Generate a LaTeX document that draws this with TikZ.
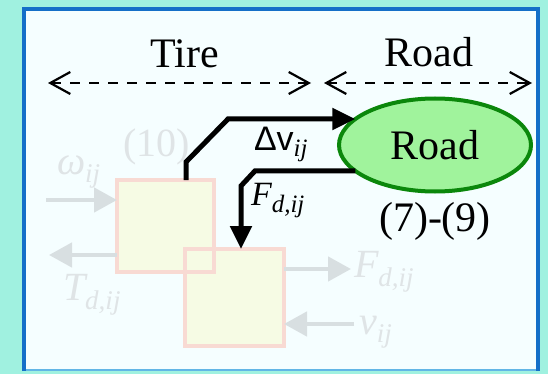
\documentclass[tikz,border=0pt]{standalone}
\usepackage{fontspec}
\setmainfont{Liberation Serif}
\newfontfamily\sansfont{Liberation Sans}
\usetikzlibrary{arrows.meta,shapes.geometric,positioning}
\definecolor{tealbg}{HTML}{A0F1E0}
\definecolor{panelbg}{HTML}{F5FEFF}
\definecolor{frameblue}{HTML}{146FC8}
\definecolor{framelight}{HTML}{62B6E6}
\definecolor{roadfill}{HTML}{A0F39C}
\definecolor{roadline}{HTML}{0B870B}
\definecolor{boxfill}{HTML}{F6FBE4}
\definecolor{boxline}{HTML}{F8DAD3}
\definecolor{fadeline}{HTML}{D8DFE1}
\definecolor{fadetext}{HTML}{DFE4E6}
\newcommand{\lowsub}[3]{\raisebox{-#1pt}{\fontsize{#2}{#2}\selectfont\itshape #3}}

\begin{document}
\begin{tikzpicture}[x=1pt, y=-1pt,
    every node/.style={inner sep=0pt, outer sep=0pt},
    bigtext/.style={font=\fontsize{42}{46}\selectfont, anchor=base},
    spanarrow/.style={line width=2.2pt, dash pattern=on 10pt off 9pt,
      {Straight Barb[length=20pt,width=22pt]}-{Straight Barb[length=20pt,width=22pt]}},
    flowarrow/.style={line width=5pt, -{Triangle[length=23pt,width=21pt]}},
    fadearrow/.style={fadeline, line width=4.5pt, -{Triangle[length=23pt,width=24pt]}},
    fadelabel/.style={fadetext, font=\fontsize{40}{44}\selectfont, anchor=base west},
    flowlabel/.style={font=\fontsize{34}{38}\selectfont, anchor=base west},
    blockbox/.style={draw=boxline, fill=boxfill, line width=4pt, minimum width=97pt, minimum height=92pt}]

%% ==== panel and frame ====
\fill[tealbg] (0,0) rectangle (548,374);
\fill[panelbg] (24,9.5) rectangle (538,370);
\draw[framelight, line width=2.5pt] (24,370) -- (538,370);
\draw[frameblue, line width=4pt] (24,371) -- (24,9.5) -- (538,9.5) -- (538,371);

%% ==== faded blocks behind ====
\fill[boxfill] (117,180) rectangle (214,272);
\fill[boxfill] (185,249) rectangle (284,346);
\node[blockbox, fill=none] (sqa) at (165.5,226) {};
\node[blockbox, fill=none, minimum width=99pt, minimum height=97pt] (sqb) at (234.5,297.5) {};

\coordinate (omegafrom) at (46,200);
\coordinate (tto) at (49,255);
\coordinate (fout) at (351,269);
\coordinate (vin) at (354,324);
\draw[fadearrow] (omegafrom) -- (omegafrom -| sqa.west);
\draw[fadearrow] (sqa.west |- tto) -- (tto);
\draw[fadearrow] (sqb.east |- fout) -- (fout);
\draw[fadearrow] (vin) -- (vin -| sqb.east);

\node[fadelabel] (omegalbl) at (57,175) {\itshape ω\lowsub{8}{27}{ij}};
\node[fadelabel] (tlbl) at (63,300) {\itshape T\lowsub{9}{27}{d,ij}};
\node[fadelabel] (eqten) at (123,157) {(10)};
\node[fadelabel] (flbl) at (354,277) {\itshape F\lowsub{9}{27}{d,ij}};
\node[fadelabel] (vlbl) at (359,334) {\itshape v\lowsub{8}{27}{ij}};

%% ==== Tire / Road spans ====
\node[bigtext] (tirelbl) at (185,68) {Tire};
\node[bigtext] (roadlbl) at (429,67) {Road};
\coordinate (tireL) at (48,83);
\coordinate (tireR) at (311,83);
\coordinate (roadL) at (324,83);
\coordinate (roadR) at (532,83);
\draw[spanarrow] (tireL) -- (tireR);
\draw[spanarrow] (roadL) -- (roadR);

%% ==== road model ====
\node[ellipse, draw=roadline, fill=roadfill, line width=4pt,
      minimum width=192pt, minimum height=93pt,
      font=\fontsize{42}{46}\selectfont] (road) at (435,145) {Road};
\node[bigtext] (roadeq) at (435,231) {(7)-(9)};

%% ==== signal paths ====
\coordinate (dvstart) at (186,0);
\coordinate (fknee) at (255,0);
\draw[flowarrow] (sqa.north -| dvstart) -- ++(0,-18) -- ++(42,-43) coordinate (dvknee)
  -- (road.162 |- dvknee);
\draw[flowarrow] (road.198) -- (road.198 -| fknee) -- ++(-14,15) coordinate (fdrop)
  -- (fdrop |- sqb.north);

\node[flowlabel] (dvlbl) at (254,150) {{\sansfont Δv}\lowsub{6}{25}{ij}};
\node[flowlabel] (fdlbl) at (251,205) {\itshape F\lowsub{7}{25}{d,ij}};

\end{tikzpicture}
\end{document}
